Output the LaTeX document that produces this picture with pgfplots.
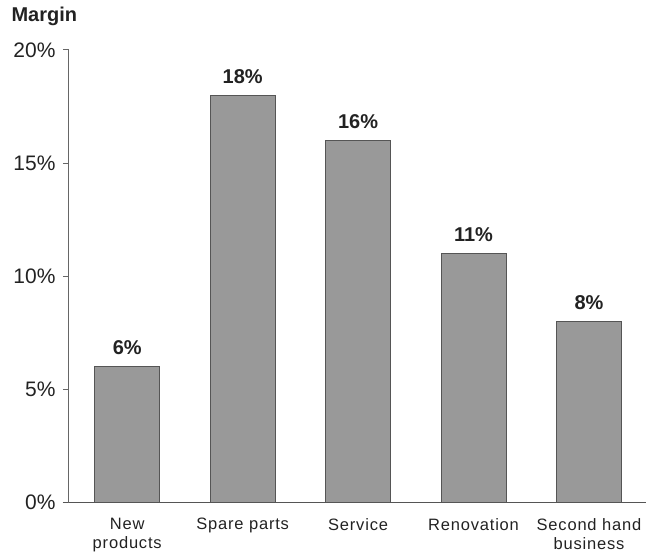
\documentclass[border=0pt]{standalone}
\usepackage{pgfplots}
\pgfplotsset{compat=1.18}
\usepackage{fontspec}
\setmainfont{Liberation Sans}
\newfontfamily\catfont[LetterSpace=5]{Liberation Sans}
\definecolor{barfill}{HTML}{999999}
\definecolor{bardraw}{HTML}{555555}
\definecolor{axisc}{HTML}{666666}
\definecolor{txt}{HTML}{222222}
\begin{document}
\begin{tikzpicture}
\begin{axis}[
  name=ax,
  scale only axis,
  width=577pt, height=453pt,
  xmin=-0.505, xmax=4.49,
  ymin=0, ymax=20,
  axis x line*=bottom, axis y line*=left,
  x axis line style={draw=bardraw, line width=1pt, shorten <=-6pt},
  y axis line style={draw=axisc, line width=1pt},
  xtick={0,1,2,3,4},
  xticklabels={New\\products, Spare parts, Service, Renovation, Second hand\\business},
  xticklabel style={align=center, font=\catfont\fontsize{16.5}{19}\selectfont, text=txt, yshift=-6pt},
  major x tick style={draw=none},
  ytick={0,5,10,15,20},
  yticklabel={\pgfmathprintnumber{\tick}\%},
  yticklabel style={font=\fontsize{21}{24}\selectfont, text=txt, xshift=-4pt},
  /pgf/number format/assume math mode=true,
  tick align=outside,
  major y tick style={draw=axisc, line width=1pt},
  major tick length=6pt,
  ybar, bar width=65pt,
  nodes near coords={\pgfmathprintnumber{\pgfplotspointmeta}\%},
  nodes near coords style={font=\bfseries\fontsize{20}{24}\selectfont, text=txt, yshift=8pt},
  clip=false,
]
\addplot[fill=barfill, draw=bardraw, line width=0.8pt] coordinates {(0,6) (1,18) (2,16) (3,11) (4,8)};
\end{axis}
\node[anchor=base west, font=\bfseries\fontsize{20}{24}\selectfont, text=txt] at ([xshift=-61pt,yshift=28pt]ax.north west) {Margin};
\path[use as bounding box] ([xshift=-69pt,yshift=50pt]ax.north west) rectangle ([yshift=-55pt]ax.south east);
\end{tikzpicture}
\end{document}
